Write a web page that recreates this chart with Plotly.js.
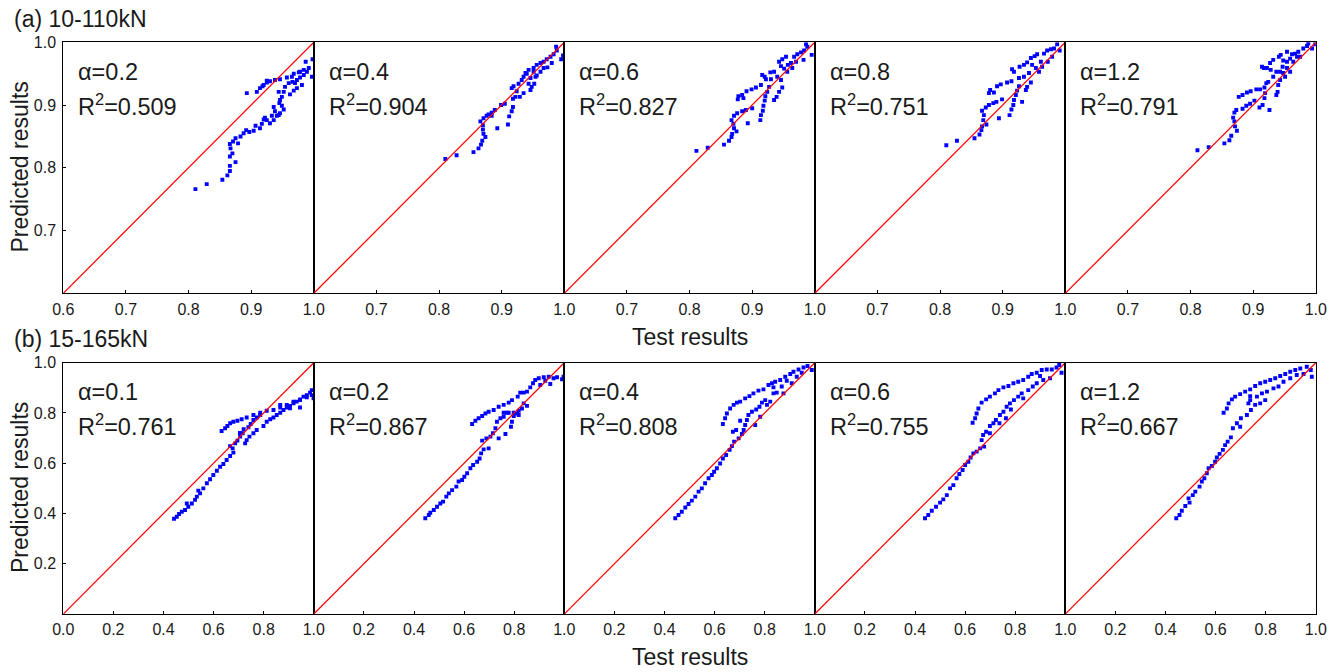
<!DOCTYPE html>
<html>
<head>
<meta charset="utf-8">
<script src="https://cdn.plot.ly/plotly-3.0.1.min.js"></script>
<style>html,body{margin:0;padding:0;background:#fff;}#chart{width:1338px;height:672px;}</style>
</head>
<body>
<div id="chart"></div>
<script>
// ---------- Data: [test result, predicted result] pairs ----------
// Row (a) 10-110kN
const rowATitle = "(a) 10-110kN";
const rowAAlpha = ["0.2", "0.4", "0.6", "0.8", "1.2"];
const rowAR2 = ["0.509", "0.904", "0.827", "0.751", "0.791"];
const a_alpha02 = [[0.811,0.766],[0.829,0.774],[0.854,0.781],[0.862,0.788],[0.866,0.795],[0.866,0.803],[0.875,0.809],[0.866,0.818],[0.870,0.823],[0.867,0.831],[0.866,0.838],[0.871,0.842],[0.875,0.847],[0.879,0.839],[0.883,0.850],[0.888,0.855],[0.892,0.860],[0.897,0.857],[0.904,0.859],[0.907,0.867],[0.914,0.863],[0.917,0.870],[0.920,0.877],[0.922,0.880],[0.925,0.876],[0.930,0.871],[0.936,0.876],[0.941,0.883],[0.946,0.887],[0.952,0.893],[0.949,0.899],[0.945,0.903],[0.946,0.908],[0.949,0.913],[0.952,0.921],[0.944,0.921],[0.936,0.897],[0.938,0.890],[0.944,0.884],[0.933,0.883],[0.954,0.929],[0.960,0.935],[0.966,0.937],[0.973,0.940],[0.978,0.944],[0.984,0.948],[0.989,0.953],[0.992,0.959],[0.987,0.969],[0.998,0.973],[0.997,0.945],[0.981,0.932],[0.973,0.927],[0.968,0.923],[0.962,0.917],[0.965,0.945],[0.970,0.935],[0.978,0.953],[0.984,0.956],[0.893,0.919],[0.909,0.921],[0.914,0.927],[0.920,0.932],[0.925,0.936],[0.930,0.938],[0.938,0.940],[0.946,0.941],[0.957,0.944],[0.968,0.950],[0.976,0.952],[0.925,0.939],[0.918,0.930]];
const a_alpha04 = [[0.810,0.814],[0.828,0.820],[0.855,0.825],[0.863,0.831],[0.867,0.837],[0.869,0.843],[0.874,0.849],[0.871,0.854],[0.870,0.861],[0.870,0.868],[0.866,0.874],[0.871,0.879],[0.876,0.883],[0.879,0.885],[0.884,0.888],[0.889,0.892],[0.884,0.883],[0.893,0.863],[0.899,0.900],[0.905,0.902],[0.910,0.869],[0.912,0.882],[0.916,0.890],[0.918,0.897],[0.918,0.910],[0.922,0.913],[0.916,0.927],[0.919,0.930],[0.924,0.922],[0.927,0.934],[0.932,0.940],[0.935,0.945],[0.940,0.950],[0.943,0.956],[0.946,0.924],[0.948,0.929],[0.952,0.934],[0.943,0.934],[0.946,0.943],[0.929,0.913],[0.935,0.919],[0.951,0.959],[0.956,0.964],[0.962,0.967],[0.967,0.969],[0.972,0.973],[0.978,0.977],[0.983,0.981],[0.988,0.987],[0.987,0.993],[0.995,0.973],[0.998,0.979],[0.973,0.960],[0.980,0.967],[0.962,0.953],[0.967,0.959],[0.956,0.947],[0.938,0.951],[0.951,0.953],[0.954,0.945]];
const a_alpha06 = [[0.811,0.827],[0.829,0.832],[0.855,0.837],[0.863,0.843],[0.867,0.849],[0.868,0.854],[0.875,0.858],[0.871,0.863],[0.870,0.870],[0.867,0.876],[0.871,0.883],[0.876,0.887],[0.884,0.890],[0.890,0.892],[0.893,0.871],[0.900,0.895],[0.877,0.909],[0.878,0.914],[0.886,0.911],[0.884,0.916],[0.891,0.922],[0.899,0.925],[0.906,0.928],[0.913,0.876],[0.914,0.884],[0.917,0.891],[0.918,0.899],[0.920,0.907],[0.921,0.914],[0.924,0.921],[0.927,0.929],[0.914,0.932],[0.916,0.948],[0.920,0.945],[0.922,0.941],[0.930,0.941],[0.929,0.952],[0.935,0.953],[0.935,0.908],[0.939,0.913],[0.943,0.921],[0.948,0.928],[0.946,0.940],[0.940,0.945],[0.946,0.962],[0.943,0.969],[0.948,0.973],[0.954,0.977],[0.951,0.958],[0.957,0.964],[0.956,0.953],[0.962,0.967],[0.967,0.977],[0.972,0.981],[0.978,0.984],[0.983,0.987],[0.988,0.993],[0.986,0.997],[0.982,0.972],[0.995,0.980],[0.970,0.969],[0.964,0.959]];
const a_alpha08 = [[0.810,0.836],[0.827,0.843],[0.855,0.847],[0.863,0.853],[0.866,0.860],[0.867,0.866],[0.874,0.869],[0.869,0.876],[0.870,0.884],[0.867,0.891],[0.873,0.896],[0.878,0.900],[0.885,0.903],[0.890,0.905],[0.894,0.879],[0.899,0.909],[0.878,0.919],[0.880,0.924],[0.886,0.920],[0.891,0.930],[0.897,0.933],[0.907,0.936],[0.914,0.938],[0.911,0.884],[0.914,0.893],[0.917,0.900],[0.918,0.908],[0.921,0.916],[0.923,0.923],[0.926,0.930],[0.915,0.957],[0.918,0.953],[0.926,0.943],[0.934,0.945],[0.927,0.961],[0.934,0.964],[0.931,0.905],[0.937,0.924],[0.939,0.929],[0.945,0.936],[0.942,0.951],[0.939,0.968],[0.945,0.975],[0.951,0.978],[0.955,0.981],[0.947,0.964],[0.953,0.959],[0.958,0.953],[0.961,0.969],[0.966,0.982],[0.971,0.987],[0.977,0.989],[0.982,0.990],[0.987,0.997],[0.979,0.977],[0.972,0.969],[0.991,0.987],[0.963,0.961]];
const a_alpha12 = [[0.811,0.828],[0.829,0.833],[0.854,0.839],[0.862,0.844],[0.865,0.851],[0.874,0.859],[0.871,0.866],[0.870,0.874],[0.868,0.880],[0.870,0.888],[0.873,0.892],[0.883,0.894],[0.889,0.899],[0.895,0.902],[0.902,0.907],[0.910,0.896],[0.915,0.900],[0.926,0.892],[0.877,0.913],[0.883,0.916],[0.890,0.920],[0.896,0.922],[0.905,0.925],[0.911,0.925],[0.918,0.928],[0.919,0.919],[0.918,0.911],[0.921,0.935],[0.924,0.937],[0.932,0.945],[0.939,0.921],[0.937,0.916],[0.940,0.932],[0.943,0.940],[0.914,0.961],[0.917,0.959],[0.922,0.959],[0.928,0.956],[0.927,0.967],[0.932,0.972],[0.937,0.953],[0.943,0.953],[0.948,0.951],[0.951,0.945],[0.947,0.961],[0.954,0.959],[0.941,0.977],[0.944,0.980],[0.948,0.971],[0.954,0.969],[0.959,0.974],[0.954,0.985],[0.962,0.981],[0.967,0.982],[0.972,0.985],[0.975,0.977],[0.980,0.990],[0.986,0.994],[0.988,0.998],[0.994,0.990],[0.999,0.997],[0.964,0.969],[0.959,0.953],[0.970,0.977]];

// Row (b) 15-165kN
const rowBTitle = "(b) 15-165kN";
const rowBAlpha = ["0.1", "0.2", "0.4", "0.6", "1.2"];
const rowBR2 = ["0.761", "0.867", "0.808", "0.755", "0.667"];
const b_alpha01 = [[0.442,0.379],[0.453,0.387],[0.462,0.398],[0.473,0.407],[0.486,0.414],[0.499,0.427],[0.493,0.440],[0.513,0.440],[0.526,0.454],[0.533,0.467],[0.546,0.480],[0.539,0.491],[0.559,0.500],[0.573,0.520],[0.586,0.536],[0.599,0.553],[0.613,0.570],[0.626,0.586],[0.639,0.597],[0.652,0.613],[0.666,0.629],[0.679,0.642],[0.676,0.659],[0.666,0.668],[0.686,0.679],[0.695,0.690],[0.706,0.706],[0.716,0.719],[0.726,0.679],[0.732,0.692],[0.743,0.706],[0.759,0.719],[0.772,0.732],[0.739,0.743],[0.748,0.756],[0.759,0.772],[0.772,0.782],[0.786,0.792],[0.799,0.748],[0.812,0.765],[0.826,0.775],[0.839,0.782],[0.852,0.792],[0.866,0.801],[0.879,0.812],[0.892,0.822],[0.905,0.828],[0.919,0.838],[0.932,0.845],[0.945,0.854],[0.959,0.865],[0.972,0.871],[0.985,0.881],[0.992,0.891],[0.999,0.858],[0.632,0.728],[0.646,0.739],[0.655,0.748],[0.666,0.759],[0.679,0.765],[0.695,0.769],[0.712,0.775],[0.732,0.782],[0.759,0.792],[0.786,0.801],[0.812,0.809],[0.839,0.812],[0.866,0.822],[0.892,0.832],[0.919,0.845],[0.945,0.851],[0.972,0.862],[0.992,0.871],[0.866,0.832],[0.905,0.819],[0.945,0.822],[0.720,0.735],[0.705,0.720]];
const b_alpha02 = [[0.445,0.381],[0.459,0.394],[0.465,0.403],[0.479,0.414],[0.492,0.427],[0.505,0.440],[0.516,0.447],[0.529,0.467],[0.539,0.480],[0.552,0.493],[0.569,0.507],[0.578,0.527],[0.592,0.533],[0.601,0.546],[0.612,0.560],[0.625,0.580],[0.636,0.593],[0.652,0.606],[0.662,0.619],[0.668,0.639],[0.678,0.655],[0.698,0.659],[0.672,0.690],[0.689,0.699],[0.705,0.706],[0.715,0.719],[0.725,0.739],[0.738,0.699],[0.765,0.716],[0.731,0.765],[0.745,0.779],[0.758,0.785],[0.771,0.801],[0.787,0.745],[0.791,0.765],[0.798,0.788],[0.811,0.798],[0.818,0.809],[0.831,0.818],[0.838,0.838],[0.851,0.828],[0.632,0.756],[0.645,0.769],[0.658,0.779],[0.672,0.788],[0.685,0.798],[0.698,0.805],[0.718,0.812],[0.738,0.825],[0.758,0.832],[0.778,0.841],[0.791,0.851],[0.814,0.865],[0.824,0.881],[0.838,0.881],[0.851,0.885],[0.864,0.902],[0.875,0.918],[0.884,0.931],[0.898,0.938],[0.918,0.942],[0.938,0.944],[0.957,0.938],[0.971,0.942],[0.991,0.934],[0.997,0.944],[0.944,0.915],[0.904,0.911],[0.924,0.928],[0.758,0.801],[0.778,0.801],[0.798,0.801],[0.818,0.792]];
const b_alpha04 = [[0.443,0.381],[0.456,0.394],[0.469,0.407],[0.483,0.424],[0.496,0.438],[0.509,0.451],[0.523,0.467],[0.536,0.487],[0.549,0.500],[0.562,0.520],[0.576,0.540],[0.589,0.553],[0.598,0.566],[0.609,0.580],[0.622,0.599],[0.633,0.619],[0.646,0.633],[0.660,0.653],[0.669,0.668],[0.678,0.686],[0.696,0.699],[0.709,0.716],[0.716,0.732],[0.722,0.752],[0.729,0.772],[0.702,0.769],[0.673,0.725],[0.686,0.732],[0.735,0.792],[0.749,0.805],[0.766,0.814],[0.779,0.825],[0.789,0.841],[0.802,0.851],[0.762,0.752],[0.782,0.785],[0.809,0.832],[0.822,0.845],[0.835,0.878],[0.848,0.881],[0.835,0.902],[0.829,0.918],[0.633,0.756],[0.642,0.779],[0.649,0.798],[0.662,0.818],[0.676,0.832],[0.689,0.841],[0.702,0.845],[0.722,0.858],[0.739,0.867],[0.755,0.878],[0.775,0.889],[0.795,0.894],[0.815,0.911],[0.842,0.924],[0.862,0.931],[0.882,0.944],[0.902,0.955],[0.915,0.964],[0.935,0.973],[0.955,0.981],[0.971,0.987],[0.988,0.971],[0.928,0.944],[0.888,0.928],[0.908,0.918],[0.868,0.905],[0.948,0.960],[0.875,0.878]];
const b_alpha06 = [[0.440,0.381],[0.453,0.394],[0.467,0.411],[0.484,0.427],[0.500,0.443],[0.513,0.456],[0.527,0.473],[0.540,0.500],[0.553,0.513],[0.566,0.540],[0.577,0.557],[0.590,0.573],[0.600,0.593],[0.613,0.606],[0.622,0.623],[0.633,0.639],[0.646,0.646],[0.660,0.659],[0.676,0.666],[0.666,0.692],[0.672,0.712],[0.684,0.725],[0.699,0.719],[0.699,0.748],[0.713,0.759],[0.723,0.772],[0.737,0.759],[0.739,0.792],[0.753,0.805],[0.763,0.779],[0.766,0.825],[0.779,0.838],[0.783,0.814],[0.795,0.851],[0.812,0.865],[0.826,0.878],[0.832,0.858],[0.852,0.891],[0.630,0.761],[0.640,0.779],[0.646,0.798],[0.653,0.818],[0.666,0.841],[0.684,0.854],[0.699,0.865],[0.719,0.878],[0.733,0.891],[0.753,0.902],[0.773,0.907],[0.793,0.918],[0.812,0.924],[0.832,0.931],[0.852,0.944],[0.866,0.955],[0.886,0.960],[0.906,0.971],[0.926,0.973],[0.946,0.973],[0.965,0.981],[0.976,0.991],[0.985,0.960],[0.939,0.938],[0.912,0.931],[0.886,0.918],[0.870,0.905],[0.899,0.947]];
const b_alpha12 = [[0.443,0.381],[0.456,0.394],[0.465,0.411],[0.479,0.430],[0.496,0.443],[0.492,0.460],[0.509,0.473],[0.519,0.487],[0.536,0.507],[0.545,0.527],[0.555,0.540],[0.565,0.560],[0.572,0.580],[0.585,0.589],[0.598,0.606],[0.605,0.623],[0.616,0.637],[0.629,0.653],[0.638,0.672],[0.648,0.686],[0.661,0.703],[0.669,0.739],[0.685,0.759],[0.701,0.779],[0.698,0.745],[0.725,0.792],[0.741,0.812],[0.758,0.832],[0.778,0.838],[0.798,0.851],[0.632,0.801],[0.645,0.818],[0.652,0.838],[0.665,0.854],[0.678,0.865],[0.698,0.875],[0.718,0.885],[0.738,0.894],[0.758,0.907],[0.778,0.918],[0.798,0.924],[0.818,0.931],[0.838,0.938],[0.858,0.947],[0.878,0.955],[0.898,0.964],[0.918,0.971],[0.938,0.977],[0.964,0.984],[0.980,0.971],[0.984,0.944],[0.951,0.955],[0.924,0.951],[0.898,0.938],[0.871,0.924],[0.851,0.905],[0.831,0.898],[0.805,0.885],[0.785,0.878],[0.765,0.865],[0.738,0.851],[0.731,0.838],[0.738,0.867]];

const rowAData = [a_alpha02, a_alpha04, a_alpha06, a_alpha08, a_alpha12];
const rowBData = [b_alpha01, b_alpha02, b_alpha04, b_alpha06, b_alpha12];

const xAxisTitle = "Test results";
const yAxisTitle = "Predicted results";
const rowARange = [0.6, 1.0];
const rowBRange = [0.0, 1.0];
const rowAXTicksFirst = [0.6, 0.7, 0.8, 0.9, 1.0];
const rowAXTicksOther = [0.7, 0.8, 0.9, 1.0];
const rowAYTicks = [0.7, 0.8, 0.9, 1.0];
const rowBXTicksFirst = [0.0, 0.2, 0.4, 0.6, 0.8, 1.0];
const rowBXTicksOther = [0.2, 0.4, 0.6, 0.8, 1.0];
const rowBYTicks = [0.2, 0.4, 0.6, 0.8, 1.0];

// ---------- Build figure ----------
const W = 1338, H = 672;
const FONT = "Liberation Sans, Arial, sans-serif";
const plotLeft = 63.3, panelW = 250.5;
const rows = [
  {top: 42.3, bottom: 293.3},
  {top: 362.7, bottom: 614.0}
];

const traces = [];
const layout = {
  width: W, height: H,
  margin: {l: 0, r: 0, t: 0, b: 0},
  paper_bgcolor: "#ffffff",
  plot_bgcolor: "#ffffff",
  showlegend: false,
  font: {family: FONT, color: "#1a1a1a", size: 16},
  annotations: []
};

function fmt(v) { return v.toFixed(1); }

function addPanel(rowIdx, col, data, range, xticks, yticks, alpha, r2) {
  const n = rowIdx * 5 + col + 1;
  const xa = n === 1 ? "x" : "x" + n;
  const ya = n === 1 ? "y" : "y" + n;
  const r = rows[rowIdx];
  const x0 = (plotLeft + panelW * col) / W;
  const x1 = (plotLeft + panelW * (col + 1)) / W;
  const y0 = 1 - r.bottom / H;
  const y1 = 1 - r.top / H;

  traces.push({
    x: data.map(p => p[0]), y: data.map(p => p[1]),
    xaxis: xa, yaxis: ya,
    type: "scatter", mode: "markers",
    marker: {symbol: "square", size: 3.9, color: "#0000ff", line: {width: 0}}
  });
  // diagonal reference line y = x
  traces.push({
    x: range, y: range, xaxis: xa, yaxis: ya,
    type: "scatter", mode: "lines",
    line: {color: "#ff0000", width: 1.25},
    hoverinfo: "skip"
  });

  const common = {
    showline: true, mirror: true, linecolor: "#000000", linewidth: 1,
    showgrid: false, zeroline: false,
    ticks: "inside", ticklen: 3, tickcolor: "#000000", tickwidth: 1,
    tickfont: {family: FONT, size: 16, color: "#1a1a1a"},
    range: range, autorange: false, fixedrange: true
  };
  layout[n === 1 ? "xaxis" : "xaxis" + n] = Object.assign({}, common, {
    domain: [x0, x1], anchor: ya,
    tickvals: xticks, ticktext: xticks.map(fmt),
    ticklabelstandoff: 1
  });
  const yOpts = Object.assign({}, common, {
    domain: [y0, y1], anchor: xa,
    ticklabelstandoff: 3
  });
  if (col === 0) {
    yOpts.tickvals = yticks; yOpts.ticktext = yticks.map(fmt);
  } else {
    yOpts.showticklabels = false; yOpts.ticks = "";
  }
  layout[n === 1 ? "yaxis" : "yaxis" + n] = yOpts;

  const ax = n === 1 ? "x domain" : "x" + n + " domain";
  const ay = n === 1 ? "y domain" : "y" + n + " domain";
  layout.annotations.push({
    xref: ax, yref: ay, x: 0.052, y: 0.882, xanchor: "left", yanchor: "middle",
    text: "\u03b1=" + alpha, showarrow: false,
    font: {family: FONT, size: 23.5, color: "#1a1a1a"}
  });
  layout.annotations.push({
    xref: ax, yref: ay, x: 0.052, y: 0.752, xanchor: "left", yanchor: "middle",
    text: "R<sup>2</sup>=" + r2, showarrow: false,
    font: {family: FONT, size: 23.5, color: "#1a1a1a"}
  });
}

for (let c = 0; c < 5; c++) {
  addPanel(0, c, rowAData[c], rowARange, c === 0 ? rowAXTicksFirst : rowAXTicksOther, rowAYTicks, rowAAlpha[c], rowAR2[c]);
}
for (let c = 0; c < 5; c++) {
  addPanel(1, c, rowBData[c], rowBRange, c === 0 ? rowBXTicksFirst : rowBXTicksOther, rowBYTicks, rowBAlpha[c], rowBR2[c]);
}

// Row titles and axis titles
const bigFont = {family: FONT, size: 23, color: "#1a1a1a"};
layout.annotations.push(
  {xref: "paper", yref: "paper", x: 12 / W, y: 1 - 19 / H, xanchor: "left", yanchor: "middle", text: rowATitle, showarrow: false, font: bigFont},
  {xref: "paper", yref: "paper", x: 12 / W, y: 1 - 339 / H, xanchor: "left", yanchor: "middle", text: rowBTitle, showarrow: false, font: bigFont},
  {xref: "paper", yref: "paper", x: 690 / W, y: 1 - 337 / H, xanchor: "center", yanchor: "middle", text: xAxisTitle, showarrow: false, font: bigFont},
  {xref: "paper", yref: "paper", x: 690 / W, y: 1 - 657 / H, xanchor: "center", yanchor: "middle", text: xAxisTitle, showarrow: false, font: bigFont},
  {xref: "paper", yref: "paper", x: 20 / W, y: 1 - 167.5 / H, xanchor: "center", yanchor: "middle", textangle: -90, text: yAxisTitle, showarrow: false, font: bigFont},
  {xref: "paper", yref: "paper", x: 20 / W, y: 1 - 488 / H, xanchor: "center", yanchor: "middle", textangle: -90, text: yAxisTitle, showarrow: false, font: bigFont}
);

Plotly.newPlot("chart", traces, layout, {staticPlot: true, displayModeBar: false});
</script>
</body>
</html>
